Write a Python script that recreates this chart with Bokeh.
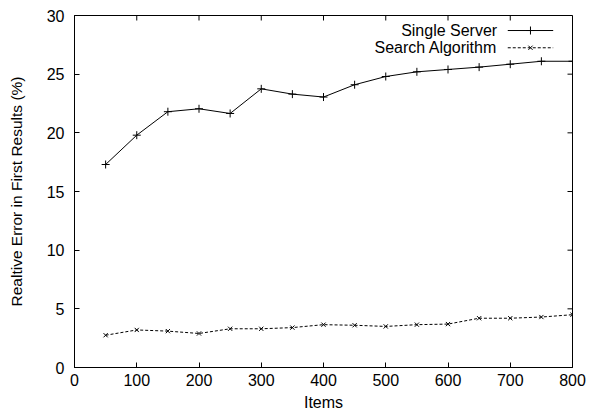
from bokeh.plotting import figure
from bokeh.models import FixedTicker, Range1d, Label
from bokeh.embed import file_html
from bokeh.resources import INLINE

# Relative error of the first results, per number of items
items = [50, 100, 150, 200, 250, 300, 350, 400, 450, 500, 550, 600, 650, 700, 750, 800]
single_server = [17.3, 19.8, 21.8, 22.05, 21.65, 23.75, 23.3, 23.05, 24.1, 24.8, 25.2, 25.4, 25.6, 25.85, 26.1, 26.1]
search_algorithm = [2.75, 3.2, 3.1, 2.9, 3.3, 3.3, 3.4, 3.65, 3.6, 3.5, 3.65, 3.7, 4.2, 4.2, 4.3, 4.5]

series_names = ["Single Server", "Search Algorithm"]
x_ticks = [0, 100, 200, 300, 400, 500, 600, 700, 800]
y_ticks = [0, 5, 10, 15, 20, 25, 30]

FONT = "Liberation Sans"
FSIZE = "16px"

X0, X1, Y0, Y1 = 0, 800, 0, 30
W, H = 589, 419
BL, BR, BT, BB = 74, 17, 15, 52

p = figure(width=W, height=H, output_backend="svg", toolbar_location=None,
           x_range=Range1d(X0, X1), y_range=Range1d(Y0, Y1),
           min_border_left=BL, min_border_right=BR, min_border_top=BT, min_border_bottom=BB,
           x_axis_label="Items", y_axis_label="Realtive Error in First Results (%)")
p.grid.visible = False
p.outline_line_color = "black"
p.outline_line_width = 1
p.background_fill_color = "white"
p.border_fill_color = "white"

def style_axis(ax, ticks):
    ax.ticker = FixedTicker(ticks=ticks)
    ax.major_tick_in = 5
    ax.major_tick_out = 0
    ax.minor_tick_in = 0
    ax.minor_tick_out = 0
    ax.axis_line_color = "black"
    ax.major_tick_line_color = "black"
    ax.major_label_text_font = FONT
    ax.major_label_text_font_size = FSIZE
    ax.major_label_text_color = "black"
    ax.axis_label_text_font = FONT
    ax.axis_label_text_font_style = "normal"
    ax.axis_label_text_font_size = FSIZE
    ax.axis_label_text_color = "black"

style_axis(p.xaxis[0], x_ticks)
style_axis(p.yaxis[0], y_ticks)
p.yaxis[0].axis_label_text_font_size = "15.5px"
p.xaxis[0].major_label_standoff = 6
p.xaxis[0].axis_label_standoff = 5
p.yaxis[0].major_label_standoff = 10
p.yaxis[0].axis_label_standoff = 19

# Mirrored inward ticks on the top and right edges of the frame
tick_px = 5
dx = tick_px * (X1 - X0) / (W - BL - BR)
dy = tick_px * (Y1 - Y0) / (H - BT - BB)
p.segment(x0=x_ticks, y0=[Y1] * len(x_ticks), x1=x_ticks, y1=[Y1 - dy] * len(x_ticks),
          line_color="black", line_width=1)
p.segment(x0=[X1] * len(y_ticks), y0=y_ticks, x1=[X1 - dx] * len(y_ticks), y1=y_ticks,
          line_color="black", line_width=1)

# Data series
p.line(items, single_server, line_color="black", line_width=1)
p.scatter(items, single_server, marker="cross", size=8, line_color="black", line_width=1)
p.line(items, search_algorithm, line_color="black", line_width=1, line_dash="3 2")
p.scatter(items, search_algorithm, marker="x", size=6, line_color="black", line_width=1)

# Key in the upper right corner: label, then line sample with marker
key_text_x = 679
key_x0, key_x1, key_mid = 696, 769, 732.5
key_rows = [28.72, 27.25]
styles = [("solid", "cross", 8), ("3 2", "x", 6)]
for name, yk, (dash, mk, sz) in zip(series_names, key_rows, styles):
    p.add_layout(Label(x=key_text_x, y=yk, text=name, text_align="right", text_baseline="middle",
                       text_font=FONT, text_font_size=FSIZE, text_color="black"))
    p.line([key_x0, key_x1], [yk, yk], line_color="black", line_width=1, line_dash=dash)
    p.scatter([key_mid], [yk], marker=mk, size=sz, line_color="black", line_width=1)

open("out.html", "w").write(file_html(p, INLINE))
